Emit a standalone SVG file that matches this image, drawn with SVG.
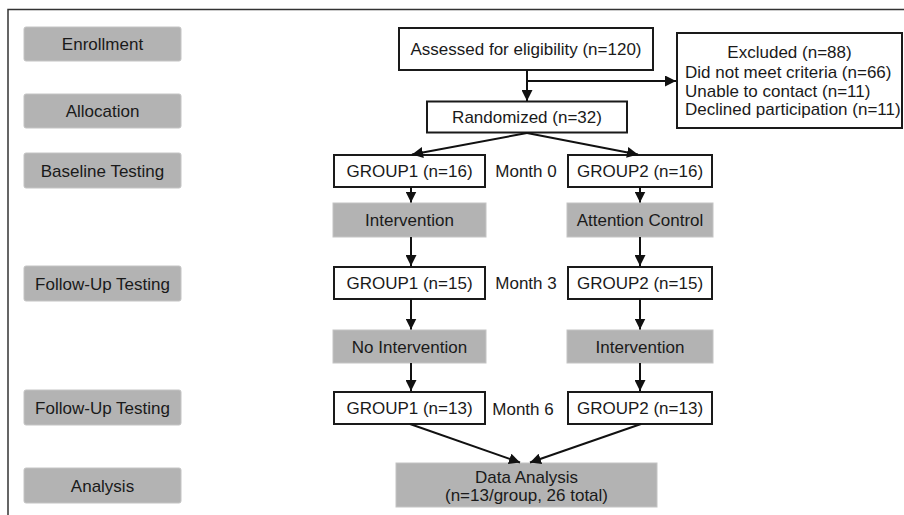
<svg xmlns="http://www.w3.org/2000/svg" width="904" height="515" viewBox="0 0 904 515">
<defs>
<marker id="ah" viewBox="0 0 10 10" refX="10" refY="5" markerWidth="5.5" markerHeight="5.5" orient="auto" markerUnits="strokeWidth"><path d="M0,0 L10,5 L0,10 z" fill="#111"/></marker>
<style>
text{font-family:"Liberation Sans",Arial,sans-serif;font-size:17px;fill:#1a1a1a;text-anchor:middle}
.g{fill:#b3b3b3;stroke:#c4c4c4;stroke-width:1}
.w{fill:#fff;stroke:#1a1a1a;stroke-width:2}
.c{fill:none;stroke:#111;stroke-width:2;marker-end:url(#ah)}
.l{text-anchor:start}
</style>
</defs>
<rect width="904" height="515" fill="#fff"/>
<path d="M8,516 V9.5 H905" fill="none" stroke="#333" stroke-width="1.5"/>
<g id="stage-enrollment"><rect class="g" x="24" y="27" width="157" height="34" rx="2"/><text x="102.5" y="50">Enrollment</text></g>
<g id="stage-allocation"><rect class="g" x="24" y="94" width="157" height="34" rx="2"/><text x="102.5" y="117">Allocation</text></g>
<g id="stage-baseline"><rect class="g" x="24" y="153" width="157" height="35" rx="2"/><text x="102.5" y="176.5">Baseline Testing</text></g>
<g id="stage-followup1"><rect class="g" x="24" y="266" width="157" height="35" rx="2"/><text x="102.5" y="289.5">Follow-Up Testing</text></g>
<g id="stage-followup2"><rect class="g" x="24" y="390" width="157" height="35" rx="2"/><text x="102.5" y="413.5">Follow-Up Testing</text></g>
<g id="stage-analysis"><rect class="g" x="24" y="468" width="157" height="35" rx="2"/><text x="102.5" y="491.5">Analysis</text></g>
<g id="assessed"><rect class="w" x="399" y="28" width="254" height="42"/><text x="526" y="55">Assessed for eligibility (n=120)</text></g>
<g id="excluded"><rect class="w" x="677" y="33" width="225" height="95"/><text x="789.5" y="58">Excluded (n=88)</text><text class="l" x="685" y="78">Did not meet criteria (n=66)</text><text class="l" x="685" y="97">Unable to contact (n=11)</text><text class="l" x="685" y="115">Declined participation (n=11)</text></g>
<g id="randomized"><rect class="w" x="427" y="101.5" width="200" height="31"/><text x="527" y="123">Randomized (n=32)</text></g>
<g id="g1-m0"><rect class="w" x="334" y="155" width="151" height="32"/><text x="409.5" y="177">GROUP1 (n=16)</text></g>
<g id="g2-m0"><rect class="w" x="568" y="155" width="144" height="32"/><text x="640" y="177">GROUP2 (n=16)</text></g>
<g id="month0"><text x="526" y="177">Month 0</text></g>
<g id="g1-intervention"><rect class="g" x="333" y="203" width="153" height="34"/><text x="409.5" y="226">Intervention</text></g>
<g id="g2-attention"><rect class="g" x="567" y="203" width="146" height="34"/><text x="640" y="226">Attention Control</text></g>
<g id="g1-m3"><rect class="w" x="334" y="267" width="151" height="32"/><text x="409.5" y="289">GROUP1 (n=15)</text></g>
<g id="g2-m3"><rect class="w" x="568" y="267" width="144" height="32"/><text x="640" y="289">GROUP2 (n=15)</text></g>
<g id="month3"><text x="526" y="289">Month 3</text></g>
<g id="g1-nointervention"><rect class="g" x="333" y="330" width="153" height="33"/><text x="409.5" y="352.5">No Intervention</text></g>
<g id="g2-intervention"><rect class="g" x="567" y="330" width="146" height="33"/><text x="640" y="352.5">Intervention</text></g>
<g id="g1-m6"><rect class="w" x="334" y="392" width="151" height="32"/><text x="409.5" y="414">GROUP1 (n=13)</text></g>
<g id="g2-m6"><rect class="w" x="568" y="392" width="144" height="32"/><text x="640" y="414">GROUP2 (n=13)</text></g>
<g id="month6"><text x="523" y="415">Month 6</text></g>
<g id="data-analysis"><rect class="g" x="396" y="463" width="261" height="44"/><text x="526.5" y="483">Data Analysis</text><text x="526.5" y="501">(n=13/group, 26 total)</text></g>
<g id="connectors">
<path class="c" d="M527,70 V101"/>
<path class="c" d="M527,81 H676"/>
<path class="c" d="M527,133 L412,154.5"/>
<path class="c" d="M527,133 L638,154.5"/>
<path class="c" d="M411,187 V202.5"/>
<path class="c" d="M640,187 V202.5"/>
<path class="c" d="M411,237 V266"/>
<path class="c" d="M640,237 V266"/>
<path class="c" d="M411,299 V329.5"/>
<path class="c" d="M640,299 V329.5"/>
<path class="c" d="M411,363 V391"/>
<path class="c" d="M640,363 V391"/>
<path class="c" d="M410,424 L520,462.5"/>
<path class="c" d="M641,424 L530,462.5"/>
</g>
</svg>
